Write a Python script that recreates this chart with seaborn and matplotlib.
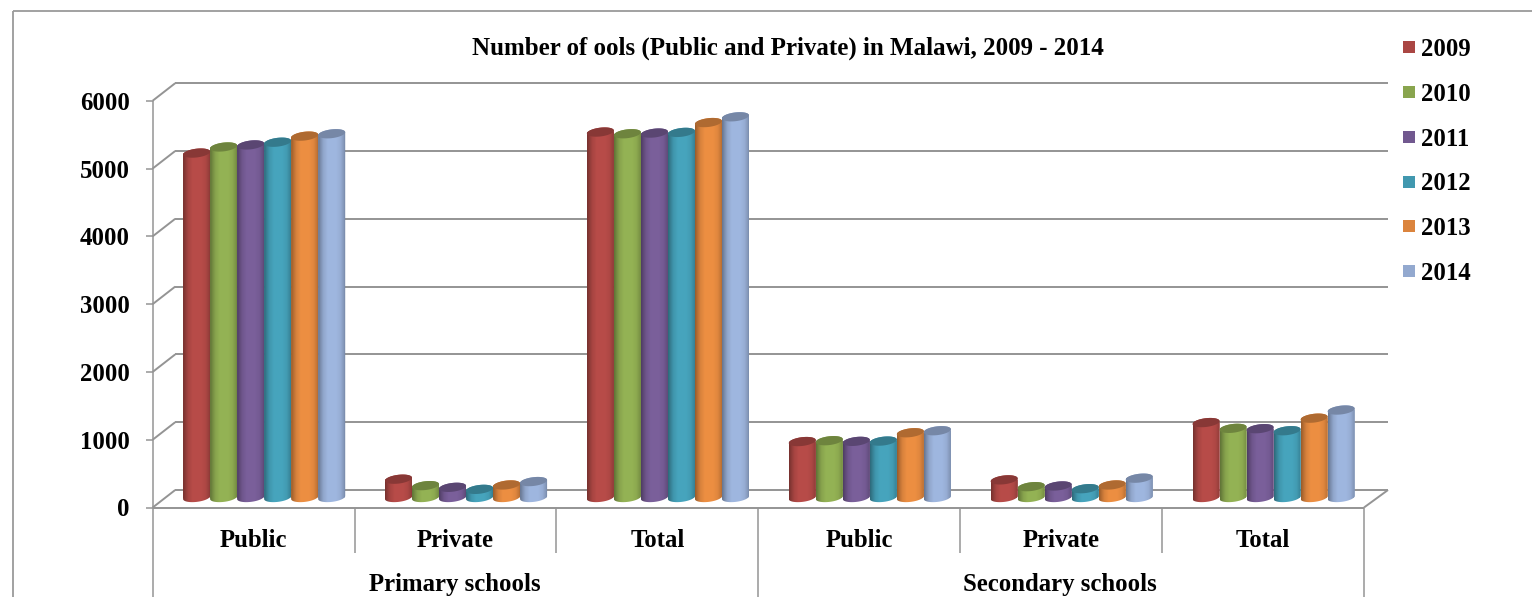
import numpy as np
import pandas as pd
import matplotlib
matplotlib.use("Agg")
import matplotlib.pyplot as plt
import seaborn as sns
from matplotlib.lines import Line2D
from matplotlib.patches import Polygon
from matplotlib.transforms import blended_transform_factory

# ---- data ----
title = "Number of ools (Public and Private) in Malawi, 2009 - 2014"
years = ["2009", "2010", "2011", "2012", "2013", "2014"]
categories = ["Public", "Private", "Total", "Public", "Private", "Total"]
groups = ["Primary schools", "Secondary schools"]
y_ticks = [0, 1000, 2000, 3000, 4000, 5000, 6000]
colors = ["#AA4643", "#89A54E", "#71588F", "#4198AF", "#DB843D", "#93A9CF"]
v2009 = [5080, 270, 5390, 825, 260, 1105]
v2010 = [5170, 175, 5365, 838, 160, 1020]
v2011 = [5200, 150, 5375, 828, 170, 1015]
v2012 = [5240, 120, 5385, 832, 130, 985]
v2013 = [5330, 185, 5530, 955, 185, 1170]
v2014 = [5365, 235, 5615, 985, 285, 1290]
series = [v2009, v2010, v2011, v2012, v2013, v2014]

# ---- layout (pixels) ----
W, H = 1532, 597
X0, X1 = 152.7, 1364.0
Y0, Y6 = 507.5, 100.7
DX, DY = 22.5, 17.5
GREY = "#949494"
FS = 17.8

sns.set_theme(style="white")
plt.rcParams["font.family"] = ["Liberation Serif", "DejaVu Serif"]
plt.rcParams["font.weight"] = "bold"

fig = plt.figure(figsize=(W / 100, H / 100), dpi=100, facecolor="white")


def rect(x0, x1, y_bottom, y_top):
    return [x0 / W, 1 - y_bottom / H, (x1 - x0) / W, (y_bottom - y_top) / H]


ax = fig.add_axes(rect(X0, X1, Y0, Y6))
bx = fig.add_axes(rect(X0 + 10.5, X1 + 10.5, Y0 - 10, Y6 - 10), zorder=3)
for a in (ax, bx):
    a.set_xlim(-0.5, 5.5)
    a.set_ylim(0, 6000)
    a.patch.set_alpha(0)

df = pd.DataFrame(
    [
        {"slot": f"{i}", "year": y, "value": vals[i]}
        for y, vals in zip(years, series)
        for i in range(len(categories))
    ]
)
sns.barplot(
    data=df, x="slot", y="value", hue="year", hue_order=years,
    palette=colors, width=0.803, gap=0, legend=False, saturation=1,
    errorbar=None, ax=bx, linewidth=0,
)
bx.set_xlim(-0.5, 5.5)
bx.set_ylim(0, 6000)
bx.axis("off")

# ---- cylinders, derived from seaborn's bar patches ----
px_per_unit = (Y0 - Y6) / 6000
half_h = 4.4 / px_per_unit
tilt = 1.5 / px_per_unit
profile_x = [0, 0.06, 0.18, 0.35, 0.65, 0.82, 0.94, 1]
profile_v = [0.70, 0.80, 0.98, 1.08, 1.08, 1.02, 0.88, 0.76]
xs = np.linspace(0, 1, 48)
shade = np.interp(xs, profile_x, profile_v)


def arc(cx, w, base, t0, t1):
    t = np.linspace(t0, t1, 40)
    px = cx + w / 2 * np.cos(t)
    py = base + half_h * np.sin(t) + tilt * np.cos(t)
    return np.column_stack([px, py])


for container in bx.containers:
    for bar in container:
        x, w, v = bar.get_x(), bar.get_width(), bar.get_height()
        cx = x + w / 2
        rgb = np.array(bar.get_facecolor()[:3])
        outline = np.vstack([arc(cx, w, v, 0, np.pi), arc(cx, w, 0, np.pi, 2 * np.pi)])
        body = Polygon(outline, closed=True, facecolor="none", edgecolor="none",
                       transform=bx.transData, clip_on=False)
        bx.add_patch(body)
        bar.set_clip_box(fig.bbox)
        bar.set_clip_path(body)
        img = np.clip(rgb[None, None, :] * shade[None, :, None], 0, 1)
        im = bx.imshow(img, extent=(x, x + w, -half_h * 2, v + half_h * 2),
                       aspect="auto", interpolation="bilinear", zorder=3)
        im.set_clip_box(fig.bbox)
        im.set_clip_path(body)
        top = Polygon(arc(cx, w, v, 0, 2 * np.pi), closed=True,
                      facecolor=rgb * 0.8, edgecolor="none", zorder=4,
                      transform=bx.transData, clip_on=False)
        bx.add_patch(top)
bx.set_xlim(-0.5, 5.5)
bx.set_ylim(0, 6000)

# ---- value axis and walls ----
ax.set_yticks(y_ticks)
ax.set_yticklabels([str(t) for t in y_ticks], fontsize=FS, fontweight="bold", color="black")
ax.set_xticks(range(len(categories)))
ax.set_xticklabels(categories, fontsize=FS, fontweight="bold", color="black")
ax.tick_params(axis="y", length=5, width=1.1, color=GREY, pad=11.7, left=True)
ax.tick_params(axis="x", length=0, pad=15.6)
for name, sp in ax.spines.items():
    sp.set_visible(False)


def fx(px):
    return px / W


def fy(py):
    return 1 - py / H


def seg(x0, y0, x1, y1, lw=1.4, color=GREY):
    fig.add_artist(Line2D([fx(x0), fx(x1)], [fy(y0), fy(y1)], color=color, lw=lw,
                          solid_capstyle="butt", zorder=1))


# back-wall gridlines and wall diagonals, from the value ticks
for t in y_ticks:
    py = Y0 - t * px_per_unit
    seg(X0, py, X0 + DX, py - DY)
    seg(X0 + DX, py - DY, 1388, py - DY)
# floor
seg(X1, Y0, 1388, Y0 - DY)
seg(X0, Y0, X1, Y0)

# category axis dividers
slot = (X1 - X0) / 6
for i in range(7):
    long_line = i in (0, 3, 6)
    seg(X0 + i * slot, Y0, X0 + i * slot, 597 if long_line else 553, lw=1.1)
seg(X0, Y6, X0, Y0, lw=1.1)

# group labels
tr = blended_transform_factory(ax.transData, fig.transFigure)
for g, cx in zip(groups, (0.995, 3.995)):
    ax.text(cx, fy(585), g, transform=tr, ha="center", va="center",
            fontsize=FS, fontweight="bold", color="black")

# outer frame
seg(12.7, 11, 1532, 11, lw=1.3, color="#9a9a9a")
seg(12.7, 11, 12.7, 597, lw=1.3, color="#9a9a9a")

fig.text(fx(787.5), fy(48.5), title, ha="center", va="center",
         fontsize=18, fontweight="bold", color="black")

handles = [Line2D([], [], linestyle="none", marker="s", markersize=9.0,
                  markerfacecolor=c, markeredgewidth=0) for c in colors]
leg = fig.legend(handles, years, loc="upper left", bbox_to_anchor=(fx(1399), fy(38)),
                 frameon=False, prop={"size": FS, "weight": "bold"},
                 labelspacing=0.88, handlelength=0.8, handletextpad=0.1,
                 borderpad=0, borderaxespad=0, labelcolor="black")

fig.savefig("out.png", dpi=100, facecolor="white")
